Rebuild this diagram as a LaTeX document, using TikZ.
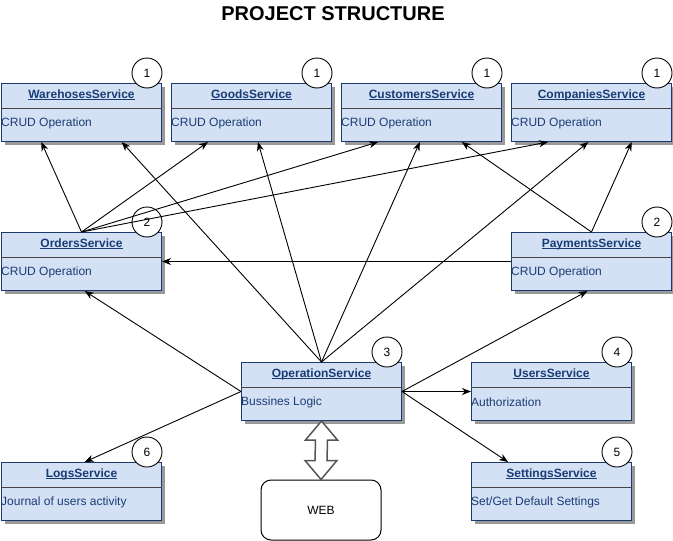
\documentclass[tikz,border=0pt]{standalone}
\usepackage{fontspec}
\setmainfont{Liberation Sans}
\usetikzlibrary{arrows.meta,shadows,calc}
\definecolor{boxfill}{HTML}{D4E1F5}
\definecolor{boxborder}{HTML}{1B3A6B}
\definecolor{navytext}{HTML}{1A3C75}
\definecolor{divgray}{HTML}{444444}
\definecolor{dblgray}{HTML}{555555}
\newcommand\myul[1]{\setbox0\hbox{#1}\rlap{\copy0}\rule[-1.8pt]{\wd0}{0.8pt}}
\tikzset{
  svcbox/.style={draw=boxborder, fill=boxfill, line width=1pt, minimum width=160pt, minimum height=58pt, inner sep=0pt,
    drop shadow={shadow xshift=3pt, shadow yshift=-3pt, fill=black!40, opacity=1}},
  divider/.style={draw=divgray, line width=0.8pt},
  hdr/.style={font=\bfseries\fontsize{12}{14}\selectfont, text=navytext, inner sep=0pt},
  bodytxt/.style={font=\fontsize{12}{14}\selectfont, text=navytext, inner sep=0pt},
  numc/.style={circle, draw=black, fill=white, line width=0.9pt, minimum size=30pt, inner sep=0pt, font=\fontsize{12}{14}\selectfont},
  arr/.style={-{Stealth[length=9pt,width=7pt,inset=2.8pt]}, line width=0.9pt, draw=black},
  webbox/.style={draw=black, fill=white, line width=1pt, rounded corners=10pt, minimum width=120pt, minimum height=60pt, font=\fontsize{12}{14}\selectfont},
  dblarrow/.style={draw=dblgray, fill=white, line width=1.5pt, line join=miter},
  ttl/.style={font=\bfseries\fontsize{20}{24}\selectfont, inner sep=0pt}
}
\newcommand\svc[6]{%
  \node[svcbox, anchor=north west] (#1) at (#2,#3) {};
  \draw[divider] ($(#1.north west)+(0,25)$) -- ($(#1.north east)+(0,25)$);
  \node[hdr] (#1-t) at ($(#1.north)+(0,12)$) {\myul{#4}};
  \node[bodytxt, anchor=west] (#1-b) at ($(#1.north west)+(0,40)$) {#5};
  \node[numc] (#1-n) at ($(#1.north east)+(-15,-10)$) {#6};
}
\begin{document}
\begin{tikzpicture}[x=1pt, y=-1pt]
\useasboundingbox (0,0) rectangle (673,541);
\node[ttl] (title) at (333,14) {PROJECT STRUCTURE};

\svc{wh}{1}{83}{WarehosesService}{CRUD Operation}{1}
\svc{gd}{171}{83}{GoodsService}{CRUD Operation}{1}
\svc{cu}{341}{83}{CustomersService}{CRUD Operation}{1}
\svc{co}{511}{83}{CompaniesService}{CRUD Operation}{1}
\svc{ord}{1}{232}{OrdersService}{CRUD Operation}{2}
\svc{pay}{511}{232}{PaymentsService}{CRUD Operation}{2}
\svc{op}{241}{362}{OperationService}{Bussines Logic}{3}
\svc{us}{471}{362}{UsersService}{Authorization}{4}
\svc{lg}{1}{462}{LogsService}{Journal of users activity}{6}
\svc{st}{471}{462}{SettingsService}{Set/Get Default Settings}{5}

\node[webbox] (web) at (321,510) {WEB};

% double arrow between OperationService and WEB
\draw[dblarrow] (op.south) -- ++(16,19) -- ++(-10,0) -- ($(web.north)+(6,-19)$) -- ++(10,0)
  -- (web.north) -- ++(-16,-19) -- ++(10,0) -- ($(op.south)+(-6,19)$) -- ++(-10,0) -- cycle;

% Orders -> top row
\draw[arr] (ord.north) -- ($(wh.south west)!0.25!(wh.south east)$);
\draw[arr] (ord.north) -- ($(gd.south west)!0.23!(gd.south east)$);
\draw[arr] (ord.north) -- ($(cu.south west)!0.23!(cu.south east)$);
\draw[arr] (ord.north) -- ($(co.south west)!0.23!(co.south east)$);
% Operation -> top row
\draw[arr] (op.north) -- ($(wh.south west)!0.75!(wh.south east)$);
\draw[arr] (op.north) -- ($(gd.south west)!0.54!(gd.south east)$);
\draw[arr] (op.north) -- ($(cu.south west)!0.49!(cu.south east)$);
\draw[arr] (op.north) -- ($(co.south west)!0.48!(co.south east)$);
% Payments -> top row
\draw[arr] (pay.north) -- ($(cu.south west)!0.75!(cu.south east)$);
\draw[arr] (pay.north) -- ($(co.south west)!0.75!(co.south east)$);
% Payments -> Orders
\draw[arr] (pay.west) -- (ord.east);
% Operation -> others
\draw[arr] (op.west) -- ($(ord.south west)!0.52!(ord.south east)$);
\draw[arr] (op.west) -- ($(lg.north west)!0.52!(lg.north east)$);
\draw[arr] (op.east) -- ($(pay.south west)!0.475!(pay.south east)$);
\draw[arr] (op.east) -- (us.west);
\draw[arr] (op.east) -- ($(st.north west)!0.23!(st.north east)$);
\end{tikzpicture}
\end{document}
